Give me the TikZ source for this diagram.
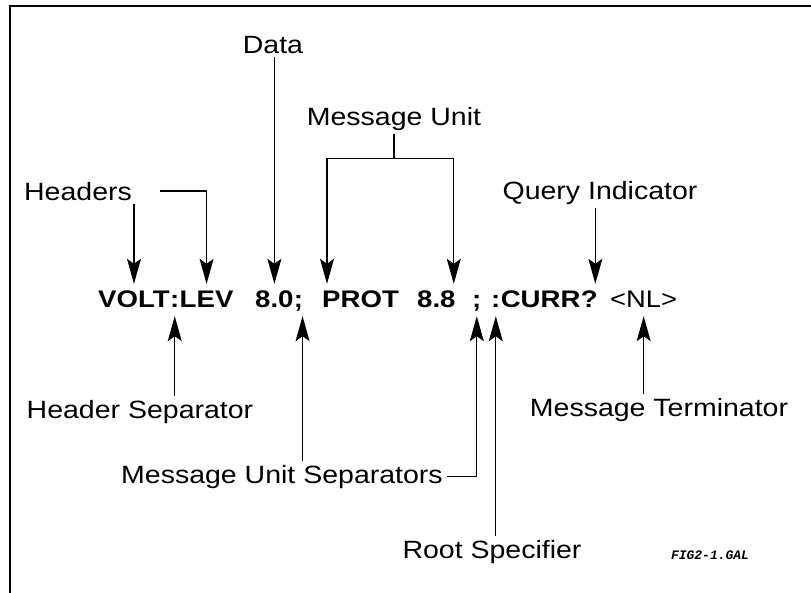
\documentclass[tikz,border=0pt]{standalone}
\usepackage{fontspec}
\setmainfont{Liberation Sans}
\newfontfamily\lblfont[FakeStretch=1.14]{Liberation Sans}
\newfontfamily\cmdfont[FakeStretch=1.15]{Liberation Sans Bold}
\newfontfamily\figfont{Liberation Mono}
\usetikzlibrary{arrows.meta, positioning, calc}

\tikzset{
  lbl/.style={font=\lblfont\fontsize{25}{30}\selectfont, inner sep=4pt, anchor=base},
  tok/.style={font=\cmdfont\fontsize{24}{28}\selectfont, inner xsep=0pt, inner ysep=6pt,
    text height=17pt, text depth=3pt, anchor=base west},
  arr/.style={line width=1.3pt, -{Stealth[length=25pt, width=14pt, inset=5pt]}},
  ln/.style={line width=1.3pt}
}

\begin{document}
\begin{tikzpicture}[x=1pt, y=-1pt]
  \useasboundingbox (0,0) rectangle (811,592);
  % frame
  \draw[line width=2.5pt] (10,600) -- (10,6) -- (820,6);

  % command line
  \node[tok] (volt) at (98,307) {VOLT};
  \node[tok] (c1) at (volt.base east) {:};
  \node[tok] (lev) at (c1.base east) {LEV};
  \node[tok] (val1) at (255,307) {8.0};
  \node[tok] (s1) at (val1.base east) {;};
  \node[tok] (prot) at (322,307) {PROT};
  \node[tok] (val2) at (417,307) {8.8};
  \node[tok] (s2) at (472,307) {;};
  \node[tok] (c2) at (491,307) {:};
  \node[tok] (curr) at (c2.base east) {CURR};
  \node[tok] (qm) at (curr.base east) {?};
  \node[tok, font=\lblfont\fontsize{24}{28}\selectfont] (nl) at (610,307) {<NL>};

  % labels above
  \node[lbl] (data) at (273,53) {Data};
  \node[lbl] (mu) at (394,125) {Message Unit};
  \node[lbl] (hdr) at (78,200) {Headers};
  \node[lbl] (qry) at (600,199) {Query Indicator};

  % labels below
  \node[lbl] (hsep) at (140,418) {Header Separator};
  \node[lbl] (mterm) at (659,416) {Message Terminator};
  \node[lbl] (musep) at (282,483) {Message Unit Separators};
  \node[lbl] (root) at (492,558) {Root Specifier};
  \node[font=\figfont\bfseries\itshape\fontsize{13}{15}\selectfont] (fig) at (710,555) {FIG2-1.GAL};

  % arrows down
  \draw[arr] (hdr.south -| volt.north) -- (volt.north);
  \draw[arr] ([xshift=24pt]hdr.east) -| (lev.north);
  \draw[arr] (data.south -| val1.north) -- (val1.north);
  \draw[ln] (mu.south) -- ++(0,24) coordinate (mubar);
  \draw[arr] (mubar) -| ([xshift=5pt]prot.north west);
  \draw[arr] (mubar) -| ([xshift=-2pt]val2.north east);
  \draw[arr] ([xshift=6pt]qry.south -| qm.north) -- ([xshift=6pt]qm.north);

  % arrows up
  \draw[arr] (hsep.north -| c1.south) -- (c1.south);
  \draw[arr] ([xshift=4pt]musep.north -| s1.south) -- ([xshift=4pt]s1.south);
  \draw[arr] (musep.east) -| (s2.south);
  \draw[arr] (root.north -| c2.south) -- (c2.south);
  \draw[arr] (mterm.north -| nl.south) -- (nl.south);
\end{tikzpicture}
\end{document}
